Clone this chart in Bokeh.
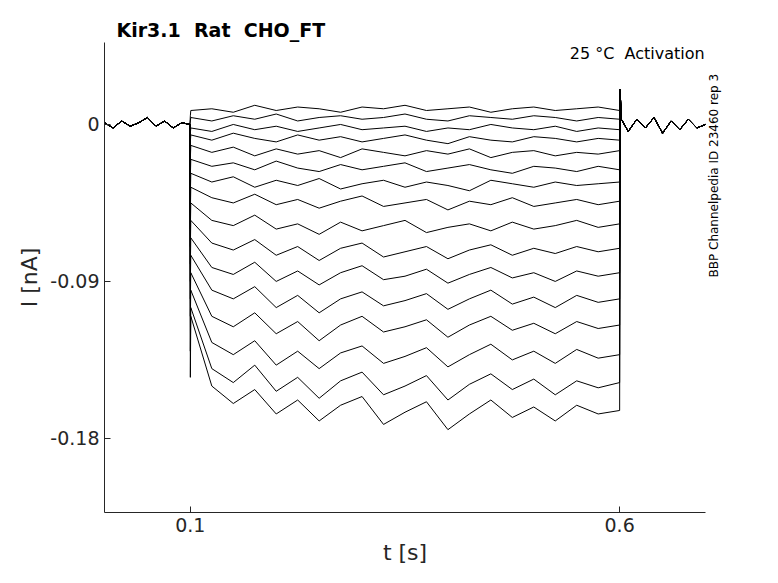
import math
from bokeh.plotting import figure
from bokeh.models import Range1d, FixedTicker, Label, LinearAxis
from bokeh.embed import file_html
from bokeh.resources import INLINE

# time grid during the step (s)
t_step = [0.1, 0.125, 0.15, 0.175, 0.2, 0.225, 0.25, 0.275, 0.3, 0.325, 0.35,
          0.375, 0.4, 0.425, 0.45, 0.475, 0.5, 0.525, 0.55, 0.575, 0.6]
t_pre = [0.0, 0.01, 0.02, 0.03, 0.04, 0.05, 0.06, 0.07, 0.08, 0.09, 0.0995]
i_pre = [0.001, -0.002, 0.002, -0.001, 0.001, 0.004, -0.001, 0.002, -0.002, 0.001, 0.0]
t_post = [0.6005, 0.602, 0.61, 0.62, 0.63, 0.64, 0.65, 0.66, 0.67, 0.68, 0.69, 0.7]
i_post = [0.02, 0.003, -0.004, 0.003, -0.002, 0.004, -0.005, 0.002, -0.003, 0.003, -0.002, 0.0]
# initial transient at step onset (nA)
onset = [0.005, 0.002, -0.005, -0.01, -0.02, -0.03, -0.04, -0.05, -0.06,
         -0.07, -0.08, -0.09, -0.1, -0.11, -0.13, -0.145]
# currents during step (nA), one list per sweep
traces = [
    [0.008, 0.009, 0.007, 0.011, 0.008, 0.010, 0.009, 0.007, 0.010, 0.009, 0.011, 0.008, 0.009, 0.010, 0.007, 0.009, 0.010, 0.008, 0.009, 0.010, 0.008],
    [0.004, 0.002, 0.005, 0.003, 0.006, 0.002, 0.004, 0.005, 0.003, 0.004, 0.006, 0.003, 0.002, 0.005, 0.004, 0.003, 0.005, 0.004, 0.002, 0.004, 0.003],
    [-0.002, -0.004, 0.0, -0.003, -0.001, -0.004, -0.002, 0.0, -0.003, -0.002, -0.001, -0.004, -0.002, -0.003, 0.0, -0.002, -0.003, -0.001, -0.004, -0.002, -0.003],
    [-0.006, -0.009, -0.005, -0.008, -0.010, -0.006, -0.009, -0.007, -0.010, -0.008, -0.006, -0.009, -0.011, -0.007, -0.009, -0.010, -0.007, -0.008, -0.010, -0.008, -0.009],
    [-0.012, -0.016, -0.013, -0.018, -0.014, -0.017, -0.015, -0.019, -0.014, -0.016, -0.018, -0.015, -0.017, -0.014, -0.019, -0.016, -0.015, -0.018, -0.016, -0.017, -0.015],
    [-0.02, -0.024, -0.022, -0.026, -0.021, -0.025, -0.027, -0.023, -0.026, -0.024, -0.022, -0.027, -0.025, -0.023, -0.026, -0.028, -0.024, -0.025, -0.027, -0.024, -0.026],
    [-0.028, -0.033, -0.030, -0.036, -0.032, -0.035, -0.031, -0.037, -0.034, -0.032, -0.036, -0.033, -0.035, -0.038, -0.032, -0.034, -0.036, -0.033, -0.035, -0.034, -0.033],
    [-0.036, -0.042, -0.045, -0.04, -0.046, -0.043, -0.048, -0.044, -0.041, -0.047, -0.045, -0.043, -0.049, -0.044, -0.046, -0.042, -0.047, -0.045, -0.043, -0.046, -0.044],
    [-0.045, -0.055, -0.058, -0.052, -0.06, -0.057, -0.063, -0.056, -0.061, -0.058, -0.055, -0.062, -0.059, -0.057, -0.061, -0.056, -0.06, -0.058, -0.055, -0.059, -0.057],
    [-0.055, -0.068, -0.072, -0.066, -0.075, -0.07, -0.078, -0.071, -0.068, -0.076, -0.073, -0.07, -0.077, -0.072, -0.069, -0.075, -0.071, -0.074, -0.07, -0.073, -0.071],
    [-0.065, -0.082, -0.086, -0.079, -0.09, -0.084, -0.092, -0.085, -0.081, -0.089, -0.087, -0.083, -0.091, -0.086, -0.082, -0.088, -0.085, -0.09, -0.084, -0.087, -0.085],
    [-0.075, -0.095, -0.1, -0.093, -0.105, -0.098, -0.108, -0.1, -0.096, -0.104, -0.101, -0.097, -0.106, -0.1, -0.095, -0.103, -0.099, -0.105, -0.098, -0.102, -0.1],
    [-0.085, -0.11, -0.116, -0.108, -0.12, -0.113, -0.124, -0.115, -0.11, -0.119, -0.116, -0.112, -0.122, -0.115, -0.11, -0.118, -0.114, -0.12, -0.113, -0.117, -0.115],
    [-0.095, -0.125, -0.132, -0.124, -0.138, -0.13, -0.14, -0.131, -0.127, -0.137, -0.133, -0.128, -0.139, -0.132, -0.126, -0.135, -0.13, -0.137, -0.129, -0.134, -0.132],
    [-0.105, -0.14, -0.148, -0.138, -0.153, -0.145, -0.157, -0.147, -0.142, -0.155, -0.15, -0.144, -0.158, -0.149, -0.143, -0.152, -0.146, -0.155, -0.147, -0.151, -0.148],
    [-0.11, -0.15, -0.16, -0.152, -0.166, -0.158, -0.17, -0.161, -0.156, -0.172, -0.165, -0.159, -0.175, -0.166, -0.158, -0.168, -0.162, -0.17, -0.161, -0.166, -0.164],
]
x_ticks = [0.1, 0.6]
y_ticks = [-0.18, -0.09, 0.0]

p = figure(width=762, height=567, output_backend="svg", toolbar_location=None,
           x_range=Range1d(0.0, 0.7), y_range=Range1d(-0.2225, 0.047),
           min_border_left=104, min_border_right=57, min_border_top=42, min_border_bottom=54)
p.title.text = "Kir3.1\u00a0\u00a0Rat\u00a0\u00a0CHO_FT"
p.title.text_font = "DejaVu Sans"
p.title.text_font_size = "19px"
p.title.text_color = "black"
p.title.offset = 12
p.title.standoff = 4
p.outline_line_color = None
p.grid.visible = False

for k, tr in enumerate(traces):
    xs = t_pre + [0.1, 0.1005] + t_step[1:] + t_post
    ys = i_pre + [onset[k], tr[0]] + tr[1:] + i_post
    p.line(xs, ys, line_color="black", line_width=1)

for ax, ticks in ((p.xaxis, x_ticks), (p.yaxis, y_ticks)):
    ax.ticker = FixedTicker(ticks=ticks)
    ax.major_label_text_font = "DejaVu Sans"
    ax.major_label_text_font_size = "19px"
    ax.major_label_text_color = "#262626"
    ax.axis_label_text_font = "DejaVu Sans"
    ax.axis_label_text_font_size = "22px"
    ax.axis_label_text_font_style = "normal"
    ax.axis_label_text_color = "#262626"
    ax.axis_line_color = "#262626"
    ax.major_tick_line_color = "#262626"
    ax.minor_tick_line_color = None
    ax.major_tick_in = 6
    ax.major_tick_out = 0
p.xaxis.axis_label = "t [s]"
p.yaxis.axis_label = "I [nA]"
p.yaxis.major_label_overrides = {-0.18: "-0.18", -0.09: "-0.09", 0.0: "0"}
p.xaxis.major_label_overrides = {0.1: "0.1", 0.6: "0.6"}

right = LinearAxis(ticker=FixedTicker(ticks=[]), axis_line_color=None,
                   major_tick_line_color=None, minor_tick_line_color=None,
                   major_label_text_font_size="0px",
                   axis_label="BBP Channelpedia ID 23460 rep 3",
                   axis_label_text_font="DejaVu Sans", axis_label_text_font_size="12px",
                   axis_label_text_font_style="normal", axis_label_text_color="black",
                   axis_label_text_align="center", axis_label_text_baseline="middle",
                   axis_label_standoff=8)
if hasattr(right, "axis_label_orientation"):
    right.axis_label_orientation = math.pi / 2
p.add_layout(right, "right")

p.add_layout(Label(x=0.699, y=0.046, text="25 °C\u00a0\u00a0Activation", text_align="right",
                   text_baseline="top", text_font="DejaVu Sans", text_font_size="16px",
                   text_color="black"))

open("out.html", "w").write(file_html(p, INLINE))
